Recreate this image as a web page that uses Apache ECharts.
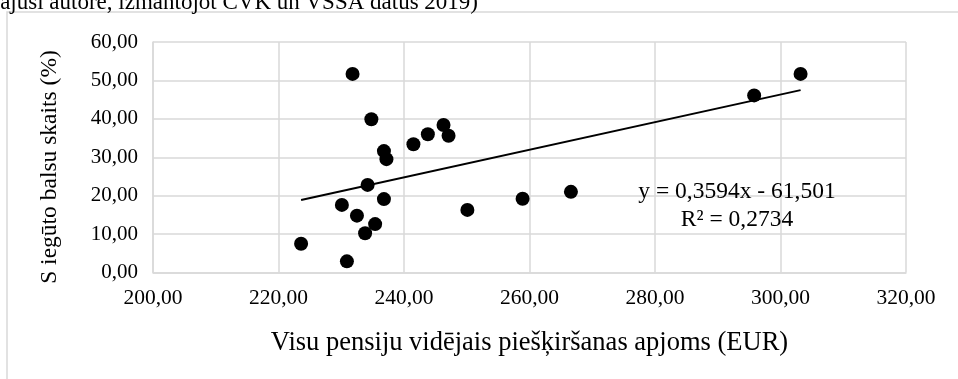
<!DOCTYPE html>
<html>
<head>
<meta charset="utf-8">
<script src="https://cdn.jsdelivr.net/npm/echarts@6/dist/echarts.min.js"></script>
<style>
  html, body { margin: 0; padding: 0; background: #fff; }
  #chart { width: 958px; height: 379px; }
</style>
</head>
<body>
<div id="chart"></div>
<script>
// Average pension award (EUR) per municipality vs. share of votes received (%)
const pensionEur = [
  223.6, 231.8, 234.8, 236.8, 237.2, 234.2, 236.8, 230.1, 232.5, 235.4, 233.8,
  230.9, 241.5, 243.8, 246.3, 247.1, 250.1, 258.9, 266.6, 295.8, 303.2
];
const voteShare = [
  7.5, 51.7, 39.9, 31.6, 29.5, 22.8, 19.1, 17.6, 14.8, 12.6, 10.2,
  2.9, 33.4, 36.0, 38.4, 35.6, 16.3, 19.2, 21.0, 46.1, 51.7
];

// Linear trend as stated on the chart
const trendSlope = 0.3594;
const trendIntercept = -61.501;
const trendText = ['y = 0,3594x - 61,501', 'R² = 0,2734'];

const xAxisTitle = 'Visu pensiju vidējais piešķiršanas apjoms (EUR)';
const yAxisTitle = 'S iegūto balsu skaits (%)';
const captionText = '(aprēķinājusi autore, izmantojot CVK un VSSA datus 2019)';

const points = pensionEur.map((x, i) => [x, voteShare[i]]);
const xMin = Math.min(...pensionEur);
const xMax = Math.max(...pensionEur);
const trendPoints = [xMin, xMax].map(x => [x, trendSlope * x + trendIntercept]);

const fmt = v => v.toFixed(2).replace('.', ',');
const serif = '"Liberation Serif", "Times New Roman", serif';
const gridColor = '#d9d9d9';

const chart = echarts.init(document.getElementById('chart'), null, { renderer: 'canvas' });
chart.setOption({
  animation: false,
  backgroundColor: '#ffffff',
  grid: { left: 153, right: 52, top: 42, bottom: 106.5, containLabel: false },
  xAxis: {
    type: 'value',
    min: 200, max: 320, interval: 20,
    name: xAxisTitle,
    nameLocation: 'middle',
    nameGap: 57,
    nameTextStyle: { fontFamily: serif, fontSize: 26.5, color: '#000' },
    axisLine: { show: true, lineStyle: { color: gridColor, width: 1.5 } },
    axisTick: { show: false },
    axisLabel: { formatter: fmt, fontFamily: serif, fontSize: 21.5, color: '#000', margin: 15 },
    splitLine: { show: true, lineStyle: { color: gridColor, width: 1.5 } }
  },
  yAxis: {
    type: 'value',
    min: 0, max: 60, interval: 10,
    axisLine: { show: true, lineStyle: { color: gridColor, width: 1.5 } },
    axisTick: { show: false },
    axisLabel: { formatter: fmt, fontFamily: serif, fontSize: 21, color: '#000', margin: 15 },
    splitLine: { show: true, lineStyle: { color: gridColor, width: 1.5 } }
  },
  series: [
    {
      type: 'line',
      data: trendPoints,
      symbol: 'none',
      lineStyle: { color: '#000', width: 2 },
      z: 3
    },
    {
      type: 'scatter',
      data: points,
      symbol: 'circle',
      symbolSize: 14,
      itemStyle: { color: '#000', opacity: 1 },
      z: 4
    }
  ],
  graphic: [
    {
      type: 'rect',
      shape: { x: 7, y: 12, width: 1000, height: 420 },
      style: { fill: 'none', stroke: gridColor, lineWidth: 1.5 },
      silent: true
    },
    {
      type: 'text',
      x: 478, y: 14,
      style: {
        text: captionText,
        font: '23px ' + serif,
        fill: '#000',
        align: 'right',
        verticalAlign: 'bottom'
      },
      silent: true
    },
    {
      // vertical axis title
      type: 'text',
      x: 50, y: 167,
      rotation: Math.PI / 2,
      style: {
        text: yAxisTitle,
        font: '23.5px ' + serif,
        fill: '#000',
        align: 'center',
        verticalAlign: 'middle'
      },
      silent: true
    },
    {
      type: 'text',
      x: 737, y: 206,
      style: {
        text: trendText.join('\n'),
        font: '23.5px ' + serif,
        lineHeight: 28,
        fill: '#000',
        align: 'center',
        verticalAlign: 'middle'
      },
      z: 10,
      silent: true
    }
  ]
});
</script>
</body>
</html>
